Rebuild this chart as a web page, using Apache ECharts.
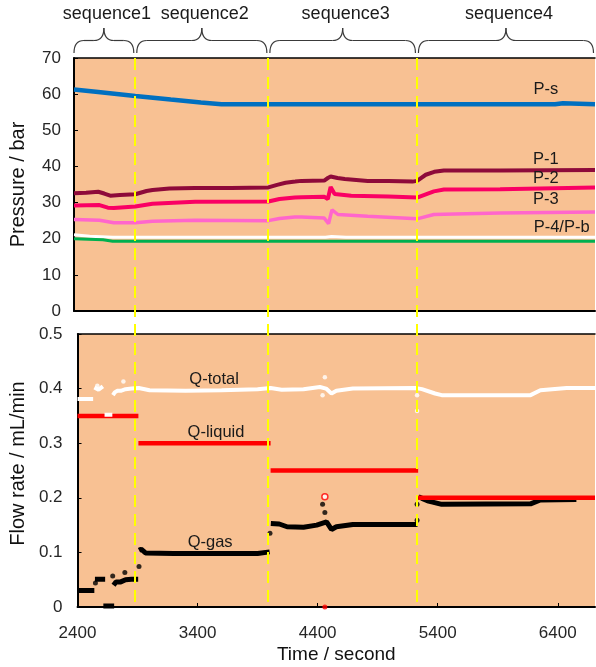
<!DOCTYPE html>
<html><head><meta charset="utf-8">
<script src="https://cdn.jsdelivr.net/npm/echarts@6/dist/echarts.min.js"></script>
<style>html,body{margin:0;padding:0;background:#fff}#c{width:596px;height:667px}</style>
</head><body><div id="c"></div>
<script>
const FONT = '"Liberation Sans", Arial, sans-serif';

// ---- axes / sequences ----
const xMin = 2400, xMax = 6710, xStep = 1000;
const seqBounds = [2400, 2907, 4008, 5237, 6710];
const seqNames = ['sequence1', 'sequence2', 'sequence3', 'sequence4'];

// ---- pressure panel (bar) ----
const pS = [[2400,61.3],[2600,60.6],[2907,59.5],[3200,58.5],[3450,57.7],[3620,57.2],[6380,57.2],[6395,57.5],[6445,57.5],[6460,57.2],[6710,57.2]];
const p1 = [[2400,32.6],[2500,32.7],[2600,33.0],[2650,32.5],[2700,31.9],[2780,32.1],[2907,32.3],[3000,33.2],[3050,33.5],[3190,33.9],[3400,34.0],[3700,34.0],[4008,34.2],[4080,34.9],[4150,35.5],[4230,35.8],[4282,36.0],[4470,36.1],[4500,36.8],[4523,37.2],[4580,36.8],[4640,36.5],[4830,36.0],[5000,36.0],[5200,35.8],[5238,36.0],[5310,37.7],[5380,38.5],[5460,38.9],[5925,38.9],[6710,39.0]];
const p2 = [[2400,29.2],[2611,29.3],[2680,28.6],[2729,28.5],[2907,28.9],[3049,29.7],[3402,30.2],[4008,30.3],[4100,31.0],[4227,31.4],[4282,31.5],[4470,31.6],[4500,31.0],[4523,34.3],[4556,32.4],[4693,31.9],[5000,31.7],[5238,31.4],[5377,33.1],[5460,33.6],[5925,33.7],[6710,34.2]];
const p3 = [[2400,25.3],[2611,25.1],[2729,24.4],[2907,24.4],[3049,24.8],[3402,25.1],[4008,25.0],[4100,25.6],[4227,26.0],[4282,26.0],[4470,25.7],[4506,24.2],[4534,28.0],[4583,26.7],[4830,26.2],[5238,25.5],[5377,26.7],[5460,26.8],[5925,27.1],[6710,27.4]];
const p4 = [[2400,21.1],[2530,20.7],[2720,20.4],[4480,20.4],[4530,20.6],[4650,20.4],[6710,20.4]];
const pB = [[2400,20.0],[2640,19.7],[2720,19.3],[6710,19.3]];

// ---- flow panel (mL/min) ----
const qTotal = [[2400,0.381],[2530,0.381],[2535,null],
  [2540,0.402],[2575,0.398],[2611,0.404],[2615,null],
  [2625,0.352],[2690,0.352],[2692,null],
  [2695,0.388],[2710,0.393],[2730,0.396],[2760,0.396],[2800,0.399],[2850,0.400],[2910,0.401],[3000,0.397],[3300,0.396],[3600,0.397],[3900,0.399],[4008,0.401],[4100,0.398],[4282,0.399],[4419,0.403],[4470,0.400],[4515,0.391],[4556,0.396],[4693,0.400],[5214,0.401],[5269,0.399],[5378,0.391],[5433,0.388],[6173,0.388],[6255,0.397],[6474,0.401],[6710,0.401]];
const qTotalDots = [[2782,0.413],[2565,0.405],[4460,0.421],[4441,0.388],[5228,0.388],[5228,0.359]];
const qLiquidLevels = [0.35, 0.30, 0.25, 0.20];
const qLiquidRing = [[4460,0.202]];
const qLiquidDots = [[4460,0]];
const qGas = [[2400,0.030],[2540,0.030],[2542,null],
  [2545,0.051],[2630,0.051],[2632,null],
  [2615,0.002],[2705,0.002],[2707,null],
  [2700,0.040],[2720,0.046],[2760,0.046],[2800,0.050],[2850,0.051],[2905,0.051],[2908,null],
  [2912,0.104],[2930,0.106],[2966,0.099],[3200,0.098],[3600,0.098],[3900,0.098],[4000,0.101],[4004,null],
  [4010,0.153],[4080,0.152],[4145,0.147],[4282,0.146],[4392,0.150],[4474,0.156],[4515,0.142],[4556,0.147],[4693,0.151],[5214,0.151],[5228,0.152],[5230,null],
  [5240,0.202],[5269,0.199],[5324,0.194],[5433,0.188],[6173,0.189],[6255,0.196],[6555,0.197]];
const qGasDots = [[2549,0.044],[2693,0.057],[2794,0.063],[2912,0.074],[4003,0.135],[4441,0.188],[4460,0.173],[5228,0.159],[5228,0.188]];

// ---- labels (anchored in data coordinates) ----
const topLabels = [['P-s',6303,61.4],['P-1',6303,41.8],['P-2',6303,36.6],['P-3',6303,30.8],['P-4/P-b',6434,23.1]];
const botLabels = [['Q-total',3559,0.416],['Q-liquid',3575,0.319],['Q-gas',3526,0.118]];

// build liquid step data with breaks
const qLiquid = [];
qLiquidLevels.forEach((v, i) => {
  qLiquid.push([seqBounds[i], v], [seqBounds[i + 1], v], [seqBounds[i + 1], null]);
});

const BG = '#F8C193';
const lbl = { color: '#262626', fontSize: 17, fontFamily: FONT };
function xAx(grid, pos, labels) {
  return {
    type: 'value', gridIndex: grid, position: pos, min: xMin, max: xMax, interval: xStep,
    axisLine: { show: true, onZero: false, lineStyle: { color: '#000', width: pos === 'bottom' ? 2 : 1.5 } },
    axisTick: { show: labels, inside: true, length: 4, lineStyle: { color: '#000' } },
    axisLabel: labels ? Object.assign({ margin: 18, showMaxLabel: false, formatter: v => String(v) }, lbl) : { show: false },
    splitLine: { show: false }
  };
}
function line(xi, yi, data, color, w, z) {
  return { type: 'line', xAxisIndex: xi, yAxisIndex: yi, data, symbol: 'none', connectNulls: false,
    lineStyle: { color, width: w }, z: z || 2, silent: true };
}
function dots(xi, yi, data, color, size, z) {
  return { type: 'scatter', xAxisIndex: xi, yAxisIndex: yi, data, symbolSize: size,
    itemStyle: { color }, z: z || 3, silent: true };
}

const option = {
  animation: false,
  backgroundColor: '#fff',
  grid: [
    { left: 71, right: 1, top: 58, height: 253, show: true, backgroundColor: BG, borderWidth: 0 },
    { left: 71, right: 1, top: 334, height: 273, show: true, backgroundColor: BG, borderWidth: 0 }
  ],
  xAxis: [xAx(0, 'bottom', false), xAx(0, 'top', false), xAx(1, 'bottom', true), xAx(1, 'top', false)],
  yAxis: [
    { type: 'value', gridIndex: 0, min: 0, max: 70, interval: 10,
      axisLine: { show: true, lineStyle: { color: '#000', width: 2 } },
      axisTick: { show: true, inside: true, length: 4, lineStyle: { color: '#000' } },
      axisLabel: Object.assign({ margin: 13 }, lbl), splitLine: { show: false },
      name: 'Pressure / bar', nameLocation: 'middle', nameGap: 46,
      nameTextStyle: { fontSize: 20, color: '#111', fontFamily: FONT } },
    { type: 'value', gridIndex: 1, min: 0, max: 0.5, interval: 0.1,
      axisLine: { show: true, lineStyle: { color: '#000', width: 2 } },
      axisTick: { show: true, inside: true, length: 4, lineStyle: { color: '#000' } },
      axisLabel: Object.assign({ margin: 15 }, lbl), splitLine: { show: false },
      name: 'Flow rate / mL/min', nameLocation: 'middle', nameGap: 46,
      nameTextStyle: { fontSize: 20, color: '#111', fontFamily: FONT, padding: [0, 0, 0, 14] } }
  ],
  series: [
    line(0, 0, pS, '#0070C0', 4.5),
    line(0, 0, p1, '#8E0A3A', 4),
    line(0, 0, p2, '#FA0064', 4),
    line(0, 0, p3, '#FF66CC', 3.5),
    line(0, 0, p4, '#FFFFFF', 3),
    line(0, 0, pB, '#00B050', 3),
    line(2, 1, qGas, '#000000', 5, 2),
    dots(2, 1, qGasDots, '#000000', 5, 3),
    line(2, 1, qLiquid, '#FF0000', 4.5, 4),
    { type: 'scatter', xAxisIndex: 2, yAxisIndex: 1, data: qLiquidRing, symbolSize: 6,
      itemStyle: { color: '#FFFFFF', borderColor: '#FF0000', borderWidth: 1.5 }, z: 5, silent: true },
    dots(2, 1, qLiquidDots, '#FF0000', 5, 5),
    line(2, 1, qTotal, '#FFFFFF', 4, 6),
    dots(2, 1, qTotalDots, '#FFFFFF', 4.5, 7)
  ]
};
option.xAxis[2].name = 'Time / second';
option.xAxis[2].nameLocation = 'middle';
option.xAxis[2].nameGap = 38;
option.xAxis[2].nameTextStyle = { fontSize: 19, color: '#111', fontFamily: FONT };

const chart = echarts.init(document.getElementById('c'));
chart.setOption(option);

const px = t => chart.convertToPixel({ xAxisIndex: 0 }, t);
const py0 = v => chart.convertToPixel({ yAxisIndex: 0 }, v);
const py1 = v => chart.convertToPixel({ yAxisIndex: 1 }, v);
const g = [];
const yTop = py0(70), yBot = py1(0);
seqBounds.slice(1, -1).forEach(t => {
  const x = Math.round(px(t));
  g.push({ type: 'line', z: 100, silent: true,
    shape: { x1: x, y1: yTop, x2: x, y2: yBot },
    style: { stroke: '#FFFF00', lineWidth: 2, lineDash: [12, 7] } });
});
const braceStyle = { stroke: '#3a3a3a', fill: null, lineWidth: 1.2 };
function addBrace(x1, x2, yb, ym, yt) {
  const xm = (x1 + x2) / 2, r = 10;
  const curves = [
    [x1, yb, x1 + r, ym, x1, ym],
    [xm - r, ym, xm, yt, xm, ym],
    [xm, yt, xm + r, ym, xm, ym],
    [x2 - r, ym, x2, yb, x2, ym]
  ];
  curves.forEach(c => g.push({ type: 'bezierCurve', z: 100, silent: true,
    shape: { x1: c[0], y1: c[1], x2: c[2], y2: c[3], cpx1: c[4], cpy1: c[5] }, style: braceStyle }));
  g.push({ type: 'line', z: 100, silent: true, shape: { x1: x1 + r, y1: ym, x2: xm - r, y2: ym }, style: braceStyle });
  g.push({ type: 'line', z: 100, silent: true, shape: { x1: xm + r, y1: ym, x2: x2 - r, y2: ym }, style: braceStyle });
}
seqNames.forEach((name, i) => {
  const x1 = px(seqBounds[i]) + (i === 0 ? 0 : 1.5), x2 = px(seqBounds[i + 1]) - 1.5;
  const xm = (x1 + x2) / 2;
  addBrace(x1, x2, yTop - 5, yTop - 17.5, yTop - 30);
  g.push({ type: 'text', z: 100, silent: true, x: xm + 3, y: 14,
    style: { text: name, font: '18px ' + FONT, fill: '#1a1a1a', align: 'center', verticalAlign: 'middle' } });
});
topLabels.forEach(([t, x, v]) => {
  g.push({ type: 'text', z: 100, silent: true, x: px(x), y: py0(v),
    style: { text: t, font: '16.5px ' + FONT, fill: '#1a1a1a', align: 'center', verticalAlign: 'middle' } });
});
botLabels.forEach(([t, x, v]) => {
  g.push({ type: 'text', z: 100, silent: true, x: px(x), y: py1(v),
    style: { text: t, font: '16.5px ' + FONT, fill: '#1a1a1a', align: 'center', verticalAlign: 'middle' } });
});
chart.setOption({ graphic: g });
</script>
</body></html>
